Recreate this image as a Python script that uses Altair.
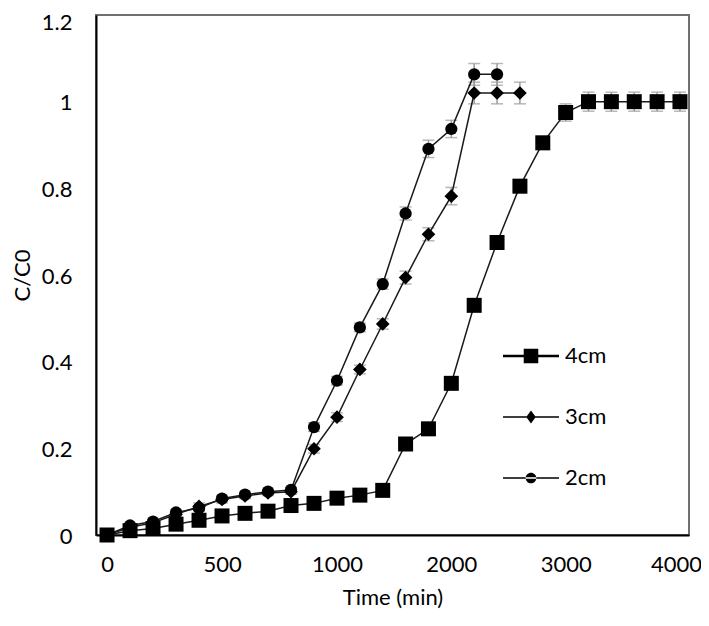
import altair as alt
import pandas as pd

# ---- data ----
series_names = ["4cm", "3cm", "2cm"]

t_4cm = [0, 100, 200, 300, 400, 500, 600, 700, 800, 900, 1000,
         1200, 1400, 1600, 1800, 2000, 2200, 2400, 2600, 2800, 3000,
         3200, 3400, 3600, 3800, 4000]
c_4cm = [0.0, 0.01, 0.015, 0.025, 0.034, 0.044, 0.05, 0.055, 0.068, 0.073, 0.085,
         0.092, 0.103, 0.21, 0.245, 0.35, 0.53, 0.675, 0.805, 0.905, 0.975,
         1.0, 1.0, 1.0, 1.0, 1.0]
e_4cm = [0.004, 0.004, 0.004, 0.004, 0.005, 0.005, 0.005, 0.005, 0.005, 0.005, 0.006,
         0.006, 0.006, 0.01, 0.01, 0.01, 0.012, 0.012, 0.015, 0.015, 0.02,
         0.022, 0.022, 0.022, 0.022, 0.022]

t_3cm = [0, 100, 200, 300, 400, 500, 600, 700, 800, 900, 1000,
         1200, 1400, 1600, 1800, 2000, 2200, 2400, 2600]
c_3cm = [0.0, 0.018, 0.028, 0.048, 0.066, 0.082, 0.09, 0.097, 0.1, 0.199, 0.272,
         0.382, 0.487, 0.594, 0.694, 0.782, 1.02, 1.02, 1.02]
e_3cm = [0.004, 0.005, 0.005, 0.006, 0.008, 0.008, 0.006, 0.006, 0.006, 0.01, 0.01,
         0.01, 0.012, 0.015, 0.015, 0.02, 0.025, 0.025, 0.025]

t_2cm = [0, 100, 200, 300, 400, 500, 600, 700, 800, 900, 1000,
         1200, 1400, 1600, 1800, 2000, 2200, 2400]
c_2cm = [0.0, 0.022, 0.031, 0.052, 0.062, 0.084, 0.093, 0.1, 0.104, 0.249, 0.356,
         0.479, 0.579, 0.742, 0.891, 0.937, 1.063, 1.063]
e_2cm = [0.004, 0.005, 0.005, 0.006, 0.006, 0.006, 0.006, 0.006, 0.006, 0.01, 0.01,
         0.01, 0.012, 0.015, 0.02, 0.02, 0.025, 0.025]

x_ticks = [0, 500, 1000, 2000, 3000, 4000]
y_ticks = [0, 0.2, 0.4, 0.6, 0.8, 1, 1.2]

rows = []
for name, ts, cs, es in [("4cm", t_4cm, c_4cm, e_4cm),
                         ("3cm", t_3cm, c_3cm, e_3cm),
                         ("2cm", t_2cm, c_2cm, e_2cm)]:
    for t, c, e in zip(ts, cs, es):
        rows.append({"series": name, "time": t, "c": c, "err": e})
df = pd.DataFrame(rows)

FONT = "Lato"
W, H = 593, 520

xscale = alt.Scale(domain=[-48, 1000, 4079], range=[0, 241, W], nice=False, zero=False)
yscale = alt.Scale(domain=[0, 1.2], nice=False, zero=False)

x_enc = alt.X("time:Q", scale=xscale,
              axis=alt.Axis(values=x_ticks, format="d", title="Time (min)", ticks=False,
                            grid=False, labelPadding=19, titlePadding=12,
                            labelOffset={"condition": {"test": "datum.value == 4000",
                                                       "value": -4}, "value": 0},
                            domainColor="black", domainWidth=2))
y_enc = alt.Y("c:Q", scale=yscale,
              axis=alt.Axis(values=y_ticks, format="~g", title="C/C0", ticks=False,
                            grid=False, labelPadding=24, titlePadding=7,
                            labelOffset={"condition": {"test": "datum.value == 1.2",
                                                       "value": 7}, "value": 1},
                            domainColor="black", domainWidth=2))

base = alt.Chart(df)

err_rule = base.transform_calculate(
    lo="datum.c - datum.err", hi="datum.c + datum.err"
).mark_rule(color="#9a9a9a", strokeWidth=1.5).encode(
    x=x_enc, y=alt.Y("lo:Q", scale=yscale), y2="hi:Q"
)
cap_hi = base.transform_calculate(hi="datum.c + datum.err").mark_tick(
    color="#9a9a9a", thickness=1.5, size=12, orient="horizontal"
).encode(x=x_enc, y=alt.Y("hi:Q", scale=yscale))
cap_lo = base.transform_calculate(lo="datum.c - datum.err").mark_tick(
    color="#9a9a9a", thickness=1.5, size=12, orient="horizontal"
).encode(x=x_enc, y=alt.Y("lo:Q", scale=yscale))

lines = base.mark_line(color="#1a1a1a", strokeWidth=1.5).encode(
    x=x_enc, y=y_enc, detail="series:N", order="time:Q"
)

shape_scale = alt.Scale(domain=series_names, range=["square", "diamond", "circle"])
size_scale = alt.Scale(domain=series_names, range=[225, 150, 130])
points = base.mark_point(filled=True, color="black", opacity=1).encode(
    x=x_enc, y=y_enc,
    shape=alt.Shape("series:N", scale=shape_scale, legend=None),
    size=alt.Size("series:N", scale=size_scale, legend=None),
)

# legend-only layer (no marks drawn): symbol = thin bar (line) through the marker
legend_paths = [
    "M-1,-0.045H1V0.045H-1ZM-0.26,-0.26H0.26V0.26H-0.26Z",
    "M-1,-0.027H1V0.027H-1ZM0,-0.23L0.17,0L0,0.23L-0.17,0Z",
    "M-1,-0.027H1V0.027H-1ZM-0.19,0A0.19,0.19 0 1,0 0.19,0A0.19,0.19 0 1,0 -0.19,0Z",
]
legend_layer = base.transform_filter("false").mark_point(
    filled=True, color="black", opacity=1
).encode(
    x=x_enc, y=y_enc,
    shape=alt.Shape("series:N",
                    scale=alt.Scale(domain=series_names, range=legend_paths),
                    legend=alt.Legend(title=None, orient="none", legendX=406, legendY=312,
                                      symbolSize=3136, rowPadding=21, labelOffset=5,
                                      labelFont=FONT, labelFontSize=22, labelColor="black",
                                      symbolFillColor="black", padding=0)),
)

chart = alt.layer(err_rule, cap_hi, cap_lo, lines, points, legend_layer).resolve_scale(
    shape="independent", size="independent"
).properties(
    width=W, height=H,
    background="white",
    autosize=alt.AutoSizeParams(type="none"),
    padding={"left": 88, "top": 7, "right": 12, "bottom": 75},
).configure_view(
    stroke="#707070", strokeWidth=2
).configure_axis(
    labelFont=FONT, labelFontSize=22, labelColor="black",
    titleFont=FONT, titleFontSize=22, titleColor="black", titleFontWeight="normal",
)

chart.save("out.html", embed_options={"renderer": "svg", "actions": False})
